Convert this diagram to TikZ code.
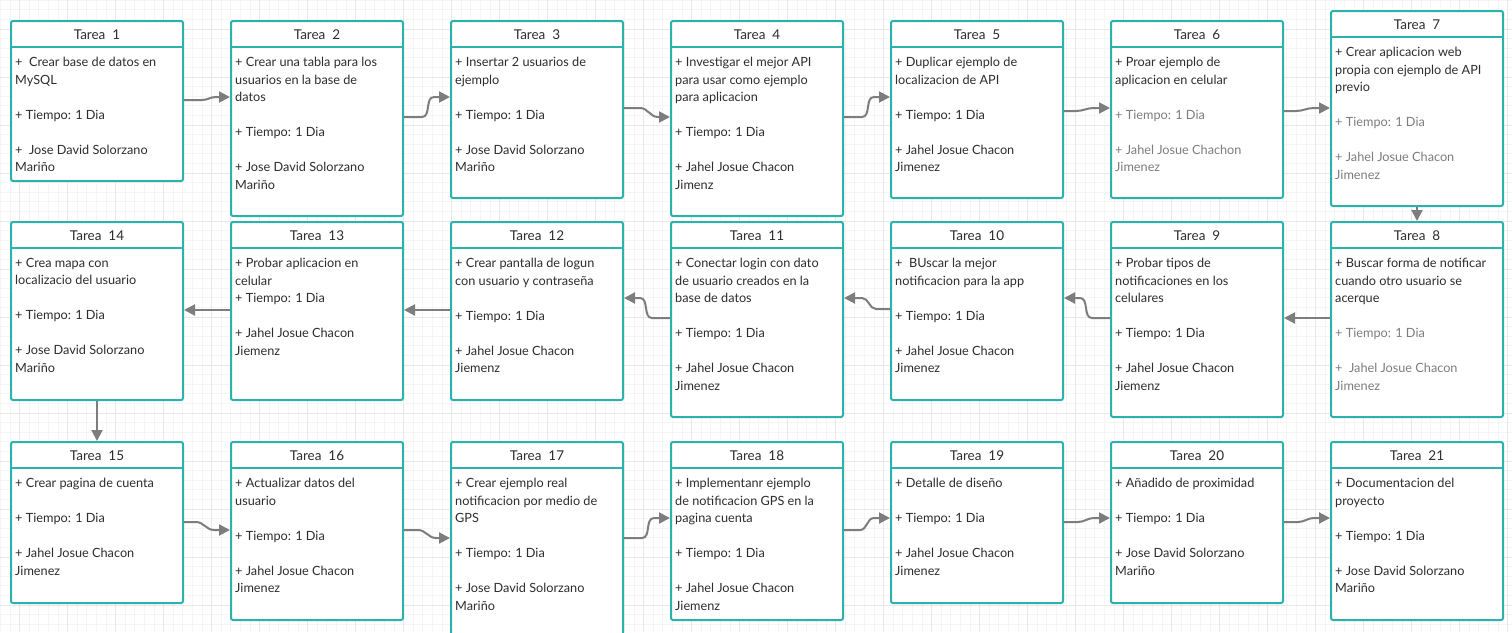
\documentclass[tikz,border=0pt]{standalone}
\usepackage{fontspec}
\setmainfont{Lato}
\usetikzlibrary{calc,arrows.meta}
\definecolor{tealb}{RGB}{44,178,172}
\definecolor{txt}{RGB}{45,45,45}
\definecolor{txtl}{RGB}{125,125,125}
\definecolor{conncol}{RGB}{125,125,125}
\definecolor{gridmin}{RGB}{245,245,245}
\definecolor{gridmaj}{RGB}{232,232,232}
\tikzset{
  taskbox/.style={draw=tealb, fill=white, line width=2pt, rounded corners=2pt, minimum width=172pt, inner sep=0pt},
  tasktitle/.style={font=\fontsize{13.5}{16}\selectfont, text=txt, inner sep=0pt},
  taskbody/.style={font=\fontsize{12.7}{17.5}\selectfont, text=txt, align=left, inner sep=0pt},
  conn/.style={draw=conncol, line width=2pt, -{Triangle[length=11pt,width=11pt]}},
  gminor/.style={draw=gridmin, line width=0.8pt},
  gmajor/.style={draw=gridmaj, line width=1pt}
}
\newcommand\tarea[6]{%
  \node[taskbox, minimum height=#4pt, anchor=north west] (#1) at (#2,#3) {};
  \draw[tealb, line width=1.6pt] ($(#1.north west)+(1,27)$) -- ($(#1.north east)+(-1,27)$);
  \node[tasktitle] (#1-h) at ($(#1.north)+(0,14.5)$) {#5};
  \node[taskbody, anchor=north west] (#1-b) at ($(#1.north west)+(5,37)$) {#6};
}
\newcommand\gl{\textcolor{txtl}}
\begin{document}
\begin{tikzpicture}[x=1pt,y=-1pt]
\useasboundingbox (0,0) rectangle (1512,632);
\clip (0,0) rectangle (1512,632);
\fill[white] (0,0) rectangle (1512,632);
\foreach \i in {0,...,157} { \draw[gminor] ({0.3+9.6*\i},0) -- ++(0,632); }
\foreach \i in {0,...,66} { \draw[gminor] (0,{0.2+9.6*\i}) -- ++(1512,0); }
\foreach \i in {0,...,31} { \draw[gmajor] ({19.5+48*\i},0) -- ++(0,632); }
\foreach \i in {0,...,13} { \draw[gmajor] (0,{29+48*\i}) -- ++(1512,0); }

% Row 1
\tarea{t1}{10}{20}{160}{Tarea~ 1}{+~ Crear base de datos en\\MySQL\\\null\\+ Tiempo: 1 Dia\\\null\\+~ Jose David Solorzano\\Mariño}
\tarea{t2}{230}{20}{195}{Tarea~ 2}{+ Crear una tabla para los\\usuarios en la base de\\datos\\\null\\+ Tiempo: 1 Dia\\\null\\+ Jose David Solorzano\\Mariño}
\tarea{t3}{450}{20}{177}{Tarea~ 3}{+ Insertar 2 usuarios de\\ejemplo\\\null\\+ Tiempo: 1 Dia\\\null\\+ Jose David Solorzano\\Mariño}
\tarea{t4}{670}{20}{195}{Tarea~ 4}{+ Investigar el mejor API\\para usar como ejemplo\\para aplicacion\\\null\\+ Tiempo: 1 Dia\\\null\\+ Jahel Josue Chacon\\Jimenz}
\tarea{t5}{890}{20}{177}{Tarea~ 5}{+ Duplicar ejemplo de\\localizacion de API\\\null\\+ Tiempo: 1 Dia\\\null\\+ Jahel Josue Chacon\\Jimenez}
\tarea{t6}{1110}{20}{177}{Tarea~ 6}{+ Proar ejemplo de\\aplicacion en celular\\\null\\\gl{+ Tiempo: 1 Dia}\\\null\\\gl{+ Jahel Josue Chachon}\\\gl{Jimenez}}
\tarea{t7}{1330}{10}{195}{Tarea~ 7}{+ Crear aplicacion web\\propia con ejemplo de API\\previo\\\null\\\gl{+ Tiempo: 1 Dia}\\\null\\\gl{+ Jahel Josue Chacon}\\\gl{Jimenez}}

% Row 2
\tarea{t14}{10}{221}{178}{Tarea~ 14}{+ Crea mapa con\\localizacio del usuario\\\null\\+ Tiempo: 1 Dia\\\null\\+ Jose David Solorzano\\Mariño}
\tarea{t13}{230}{221}{178}{Tarea~ 13}{+ Probar aplicacion en\\celular\\+ Tiempo: 1 Dia\\\null\\+ Jahel Josue Chacon\\Jiemenz}
\tarea{t12}{450}{221}{178}{Tarea~ 12}{+ Crear pantalla de logun\\con usuario y contraseña\\\null\\+ Tiempo: 1 Dia\\\null\\+ Jahel Josue Chacon\\Jiemenz}
\tarea{t11}{670}{221}{195}{Tarea~ 11}{+ Conectar login con dato\\de usuario creados en la\\base de datos\\\null\\+ Tiempo: 1 Dia\\\null\\+ Jahel Josue Chacon\\Jimenez}
\tarea{t10}{890}{221}{178}{Tarea~ 10}{+~ BUscar la mejor\\notificacion para la app\\\null\\+ Tiempo: 1 Dia\\\null\\+ Jahel Josue Chacon\\Jimenez}
\tarea{t9}{1110}{221}{195}{Tarea~ 9}{+ Probar tipos de\\notificaciones en los\\celulares\\\null\\+ Tiempo: 1 Dia\\\null\\+ Jahel Josue Chacon\\Jiemenz}
\tarea{t8}{1330}{221}{195}{Tarea~ 8}{+ Buscar forma de notificar\\cuando otro usuario se\\acerque\\\null\\\gl{+ Tiempo: 1 Dia}\\\null\\\gl{+~ Jahel Josue Chacon}\\\gl{Jimenez}}

% Row 3
\tarea{t15}{10}{441}{161}{Tarea~ 15}{+ Crear pagina de cuenta\\\null\\+ Tiempo: 1 Dia\\\null\\+ Jahel Josue Chacon\\Jimenez}
\tarea{t16}{230}{441}{178}{Tarea~ 16}{+ Actualizar datos del\\usuario\\\null\\+ Tiempo: 1 Dia\\\null\\+ Jahel Josue Chacon\\Jimenez}
\tarea{t17}{450}{441}{200}{Tarea~ 17}{+ Crear ejemplo real\\notificacion por medio de\\GPS\\\null\\+ Tiempo: 1 Dia\\\null\\+ Jose David Solorzano\\Mariño}
\tarea{t18}{670}{441}{178}{Tarea~ 18}{+ Implementanr ejemplo\\de notificacion GPS en la\\pagina cuenta\\\null\\+ Tiempo: 1 Dia\\\null\\+ Jahel Josue Chacon\\Jiemenz}
\tarea{t19}{890}{441}{161}{Tarea~ 19}{+ Detalle de diseño\\\null\\+ Tiempo: 1 Dia\\\null\\+ Jahel Josue Chacon\\Jimenez}
\tarea{t20}{1110}{441}{161}{Tarea~ 20}{+ Añadido de proximidad\\\null\\+ Tiempo: 1 Dia\\\null\\+ Jose David Solorzano\\Mariño}
\tarea{t21}{1330}{441}{178}{Tarea~ 21}{+ Documentacion del\\proyecto\\\null\\+ Tiempo: 1 Dia\\\null\\+ Jose David Solorzano\\Mariño}

% Connectors row 1 (rightward)
\draw[conn] ($(t1.north east)+(0,80)$) -- ++(18,0) to[out=0,in=180] ($(t2.north west)+(-14,77)$) -- ($(t2.north west)+(0,77)$);
\draw[conn] ($(t2.north east)+(0,97)$) -- ++(18,0) to[out=0,in=180] ($(t3.north west)+(-16,77)$) -- ($(t3.north west)+(0,77)$);
\draw[conn] ($(t3.north east)+(0,88)$) -- ++(16,0) to[out=0,in=180] ($(t4.north west)+(-12,97)$) -- ($(t4.north west)+(0,97)$);
\draw[conn] ($(t4.north east)+(0,97)$) -- ++(18,0) to[out=0,in=180] ($(t5.north west)+(-16,77)$) -- ($(t5.north west)+(0,77)$);
\draw[conn] ($(t5.north east)+(0,91)$) -- ++(12,0) to[out=0,in=180] ($(t6.north west)+(-16,88)$) -- ($(t6.north west)+(0,88)$);
\draw[conn] ($(t6.north east)+(0,91)$) -- ++(12,0) to[out=0,in=180] ($(t7.north west)+(-16,98)$) -- ($(t7.north west)+(0,98)$);
\draw[conn] (t7.south) -- (t8.north);

% Row 2 (leftward)
\draw[conn] ($(t8.north west)+(0,97)$) -- ($(t9.north east)+(0,97)$);
\draw[conn] ($(t9.north west)+(0,97)$) -- ++(-18,0) to[out=180,in=0] ($(t10.north east)+(16,77)$) -- ($(t10.north east)+(0,77)$);
\draw[conn] ($(t10.north west)+(0,88)$) -- ++(-14,0) to[out=180,in=0] ($(t11.north east)+(18,77)$) -- ($(t11.north east)+(0,77)$);
\draw[conn] ($(t11.north west)+(0,97)$) -- ++(-18,0) to[out=180,in=0] ($(t12.north east)+(16,77)$) -- ($(t12.north east)+(0,77)$);
\draw[conn] ($(t12.north west)+(0,89)$) -- ($(t13.north east)+(0,89)$);
\draw[conn] ($(t13.north west)+(0,89)$) -- ($(t14.north east)+(0,89)$);
\draw[conn] (t14.south) -- (t15.north);

% Row 3 (rightward)
\draw[conn] ($(t15.north east)+(0,81)$) -- ++(12,0) to[out=0,in=180] ($(t16.north west)+(-16,89)$) -- ($(t16.north west)+(0,89)$);
\draw[conn] ($(t16.north east)+(0,89)$) -- ++(14,0) to[out=0,in=180] ($(t17.north west)+(-14,97)$) -- ($(t17.north west)+(0,97)$);
\draw[conn] ($(t17.north east)+(0,97)$) -- ++(18,0) to[out=0,in=180] ($(t18.north west)+(-16,77)$) -- ($(t18.north west)+(0,77)$);
\draw[conn] ($(t18.north east)+(0,89)$) -- ++(16,0) to[out=0,in=180] ($(t19.north west)+(-16,77)$) -- ($(t19.north west)+(0,77)$);
\draw[conn] ($(t19.north east)+(0,81)$) -- ++(14,0) to[out=0,in=180] ($(t20.north west)+(-16,77)$) -- ($(t20.north west)+(0,77)$);
\draw[conn] ($(t20.north east)+(0,81)$) -- ++(14,0) to[out=0,in=180] ($(t21.north west)+(-16,77)$) -- ($(t21.north west)+(0,77)$);
\end{tikzpicture}
\end{document}
